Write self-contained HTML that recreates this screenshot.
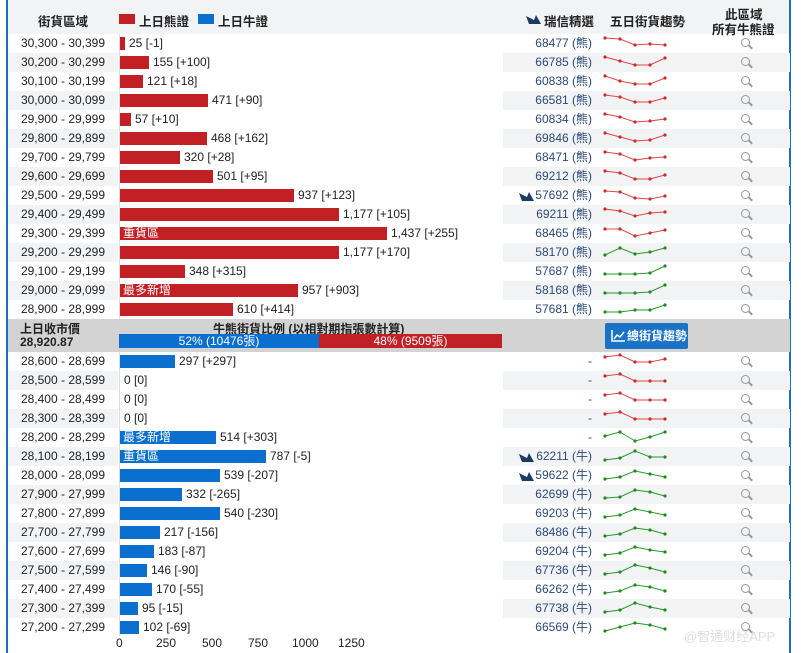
<!DOCTYPE html>
<html><head><meta charset="utf-8"><style>
*{margin:0;padding:0;box-sizing:border-box}
body{width:801px;height:653px;background:#fff;font-family:"Liberation Sans","Noto Sans CJK TC",sans-serif;font-size:12px;color:#222;position:relative;overflow:hidden}
.frame{position:absolute;left:6px;top:0;width:785px;height:653px;border-left:2px solid #1a6fc4;border-right:2px solid #1a6fc4}
.hdr{position:absolute;left:8px;top:0;width:782px;height:34px;background:#f2f3f5}
.h{position:absolute;font-weight:bold;font-size:12.5px;color:#222}
.row{position:absolute;left:8px;width:782px;height:19px}
.row.s .l,.row.s .r{background:#f2f3f5}
.l{position:absolute;left:0;top:0;width:110px;height:19px;text-align:center;line-height:19px}
.r{position:absolute;left:495px;top:0;width:287px;height:19px}
.bar{position:absolute;left:112px;top:3px;height:13px}
.bear{background:#c22024}.bull{background:#0a6fcf}
.v{position:absolute;top:0;line-height:19px}
.tag{position:absolute;left:115px;top:0;line-height:19px;color:#fff}
.c{position:absolute;right:198px;top:0;line-height:19px;color:#2b4a7a;text-align:right}
.sp{position:absolute;left:100px;top:2px;overflow:visible}
.sp polyline[stroke="#e05a5a"]{marker:url(#mr);stroke:#e04848}
.sp polyline[stroke="#2a9a2a"]{marker:url(#mg);stroke:#2a9a2a}
.m{position:absolute;left:238px;top:4px;width:9px;height:9px;border:1.6px solid #999;border-radius:50%;font-size:0}
.m::after{content:"";position:absolute;left:6px;top:7px;width:5px;height:1.8px;background:#999;transform:rotate(45deg)}
.bird{position:absolute;left:16px;top:5px}
.mid{position:absolute;left:8px;top:319px;width:782px;height:33px;background:#d3d3d3}
.axis{position:absolute;top:636px;font-size:12px}
.vline{position:absolute;left:119px;top:34px;width:1px;height:602px;background:#ddd}
</style></head><body>
<svg width="0" height="0" style="position:absolute"><defs>
<marker id="mr" markerWidth="4" markerHeight="4" refX="2" refY="2" markerUnits="userSpaceOnUse"><circle cx="2" cy="2" r="1.6" fill="#d02a2a"/></marker>
<marker id="mg" markerWidth="4" markerHeight="4" refX="2" refY="2" markerUnits="userSpaceOnUse"><circle cx="2" cy="2" r="1.6" fill="#1f8a1f"/></marker>
</defs></svg>
<div class="hdr"></div>
<div class="frame"></div>
<div class="h" style="left:38px;top:11px">街貨區域</div>
<div style="position:absolute;left:119px;top:14px;width:16px;height:10px;background:#c22024"></div>
<div class="h" style="left:139px;top:11px">上日熊證</div>
<div style="position:absolute;left:198px;top:14px;width:16px;height:10px;background:#0a6fcf"></div>
<div class="h" style="left:218px;top:11px">上日牛證</div>
<svg style="position:absolute;left:526px;top:14px" width="16" height="11"><path d="M0 2 L8 6 L10 1 L15 10 L3 10 Z" fill="#1c3b64"/></svg>
<div class="h" style="left:544px;top:11px">瑞信精選</div>
<div class="h" style="left:610px;top:11px">五日街貨趨勢</div>
<div class="h" style="left:725px;top:4px">此區域</div>
<div class="h" style="left:712px;top:19px">所有牛熊證</div>
<div class="vline"></div>

<div class="mid">
<div style="position:absolute;left:12px;top:1px;font-weight:bold;font-size:12px">上日收市價</div>
<div style="position:absolute;left:12px;top:16px;font-weight:bold;font-size:12px">28,920.87</div>
<div style="position:absolute;left:205px;top:1px;font-weight:bold;font-size:12px">牛熊街貨比例 (以相對期指張數計算)</div>
<div style="position:absolute;left:111px;top:15px;width:200px;height:14px;background:#0a6fcf;color:#fff;text-align:center;line-height:14px">52% (10476張)</div>
<div style="position:absolute;left:311px;top:15px;width:183px;height:14px;background:#c22024;color:#fff;text-align:center;line-height:14px">48% (9509張)</div>
<div style="position:absolute;left:597px;top:4px;width:83px;height:26px;background:#1a73c8;border-radius:2px;color:#fff;font-weight:bold;line-height:26px;padding-left:22px;font-size:12px">總街貨趨勢</div>
<svg style="position:absolute;left:603px;top:10px" width="15" height="13"><path d="M1 1 V12 H14" stroke="#fff" fill="none" stroke-width="1.5"/><path d="M3 10 L6 6 L9 8 L13 3" stroke="#fff" fill="none" stroke-width="1.5"/></svg>
</div>

<div class="axis" style="left:116px">0</div>
<div class="axis" style="left:156px">250</div>
<div class="axis" style="left:202px">500</div>
<div class="axis" style="left:248px">750</div>
<div class="axis" style="left:292px">1000</div>
<div class="axis" style="left:338px">1250</div>
<div style="position:absolute;left:684px;top:626px;color:#ddd;font-size:13px">@智通财经APP</div>

<div style="position:absolute;left:0;top:34px">
<div class="row" style="top:0"><div class="l">30,300 - 30,399</div><div class="bar bear" style="width:5px"></div><div class="v" style="left:121px">25 [-1]</div><div class="r"><div class="c">68477 (熊)</div><svg class="sp" width="64" height="15"><polyline points="2,2 17,3 32,9 47,8 62,9" fill="none" stroke="#e05a5a"/></svg><div class="m">q</div></div></div>
<div class="row s" style="top:19px"><div class="l">30,200 - 30,299</div><div class="bar bear" style="width:29px"></div><div class="v" style="left:145px">155 [+100]</div><div class="r"><div class="c">66785 (熊)</div><svg class="sp" width="64" height="15"><polyline points="2,2 17,6 32,10 47,10 62,3" fill="none" stroke="#e05a5a"/></svg><div class="m">q</div></div></div>
<div class="row" style="top:38px"><div class="l">30,100 - 30,199</div><div class="bar bear" style="width:23px"></div><div class="v" style="left:139px">121 [+18]</div><div class="r"><div class="c">60838 (熊)</div><svg class="sp" width="64" height="15"><polyline points="2,2 17,7 32,10 47,10 62,4" fill="none" stroke="#e05a5a"/></svg><div class="m">q</div></div></div>
<div class="row s" style="top:57px"><div class="l">30,000 - 30,099</div><div class="bar bear" style="width:88px"></div><div class="v" style="left:204px">471 [+90]</div><div class="r"><div class="c">66581 (熊)</div><svg class="sp" width="64" height="15"><polyline points="2,2 17,4 32,9 47,9 62,5" fill="none" stroke="#e05a5a"/></svg><div class="m">q</div></div></div>
<div class="row" style="top:76px"><div class="l">29,900 - 29,999</div><div class="bar bear" style="width:11px"></div><div class="v" style="left:127px">57 [+10]</div><div class="r"><div class="c">60834 (熊)</div><svg class="sp" width="64" height="15"><polyline points="2,2 17,5 32,10 47,9 62,7" fill="none" stroke="#e05a5a"/></svg><div class="m">q</div></div></div>
<div class="row s" style="top:95px"><div class="l">29,800 - 29,899</div><div class="bar bear" style="width:87px"></div><div class="v" style="left:203px">468 [+162]</div><div class="r"><div class="c">69846 (熊)</div><svg class="sp" width="64" height="15"><polyline points="2,2 17,6 32,10 47,9 62,4" fill="none" stroke="#e05a5a"/></svg><div class="m">q</div></div></div>
<div class="row" style="top:114px"><div class="l">29,700 - 29,799</div><div class="bar bear" style="width:60px"></div><div class="v" style="left:176px">320 [+28]</div><div class="r"><div class="c">68471 (熊)</div><svg class="sp" width="64" height="15"><polyline points="2,2 17,4 32,10 47,8 62,7" fill="none" stroke="#e05a5a"/></svg><div class="m">q</div></div></div>
<div class="row s" style="top:133px"><div class="l">29,600 - 29,699</div><div class="bar bear" style="width:93px"></div><div class="v" style="left:209px">501 [+95]</div><div class="r"><div class="c">69212 (熊)</div><svg class="sp" width="64" height="15"><polyline points="2,2 17,4 32,10 47,10 62,6" fill="none" stroke="#e05a5a"/></svg><div class="m">q</div></div></div>
<div class="row" style="top:152px"><div class="l">29,500 - 29,599</div><div class="bar bear" style="width:174px"></div><div class="v" style="left:290px">937 [+123]</div><div class="r"><svg class="bird" width="16" height="11"><path d="M0 2 L8 6 L10 1 L15 10 L3 10 Z" fill="#1c3b64"/></svg><div class="c">57692 (熊)</div><svg class="sp" width="64" height="15"><polyline points="2,3 17,4 32,10 47,11 62,8" fill="none" stroke="#e05a5a"/></svg><div class="m">q</div></div></div>
<div class="row s" style="top:171px"><div class="l">29,400 - 29,499</div><div class="bar bear" style="width:219px"></div><div class="v" style="left:335px">1,177 [+105]</div><div class="r"><div class="c">69211 (熊)</div><svg class="sp" width="64" height="15"><polyline points="2,2 17,4 32,9 47,6 62,5" fill="none" stroke="#e05a5a"/></svg><div class="m">q</div></div></div>
<div class="row" style="top:190px"><div class="l">29,300 - 29,399</div><div class="bar bear" style="width:267px"></div><div class="tag">重貨區</div><div class="v" style="left:383px">1,437 [+255]</div><div class="r"><div class="c">68465 (熊)</div><svg class="sp" width="64" height="15"><polyline points="2,3 17,3 32,10 47,7 62,4" fill="none" stroke="#e05a5a"/></svg><div class="m">q</div></div></div>
<div class="row s" style="top:209px"><div class="l">29,200 - 29,299</div><div class="bar bear" style="width:219px"></div><div class="v" style="left:335px">1,177 [+170]</div><div class="r"><div class="c">58170 (熊)</div><svg class="sp" width="64" height="15"><polyline points="2,10 17,3 32,9 47,7 62,3" fill="none" stroke="#2a9a2a"/></svg><div class="m">q</div></div></div>
<div class="row" style="top:228px"><div class="l">29,100 - 29,199</div><div class="bar bear" style="width:65px"></div><div class="v" style="left:181px">348 [+315]</div><div class="r"><div class="c">57687 (熊)</div><svg class="sp" width="64" height="15"><polyline points="2,10 17,10 32,10 47,9 62,2" fill="none" stroke="#2a9a2a"/></svg><div class="m">q</div></div></div>
<div class="row s" style="top:247px"><div class="l">29,000 - 29,099</div><div class="bar bear" style="width:178px"></div><div class="tag">最多新增</div><div class="v" style="left:294px">957 [+903]</div><div class="r"><div class="c">58168 (熊)</div><svg class="sp" width="64" height="15"><polyline points="2,10 17,10 32,10 47,9 62,2" fill="none" stroke="#2a9a2a"/></svg><div class="m">q</div></div></div>
<div class="row" style="top:266px"><div class="l">28,900 - 28,999</div><div class="bar bear" style="width:113px"></div><div class="v" style="left:229px">610 [+414]</div><div class="r"><div class="c">57681 (熊)</div><svg class="sp" width="64" height="15"><polyline points="2,10 17,10 32,8 47,8 62,3" fill="none" stroke="#2a9a2a"/></svg><div class="m">q</div></div></div>
</div>

<div style="position:absolute;left:0;top:352px">
<div class="row" style="top:0"><div class="l">28,600 - 28,699</div><div class="bar bull" style="width:55px"></div><div class="v" style="left:171px">297 [+297]</div><div class="r"><div class="c">-</div><svg class="sp" width="64" height="15"><polyline points="2,3 17,1 32,8 47,8 62,5" fill="none" stroke="#e05a5a"/></svg><div class="m">q</div></div></div>
<div class="row s" style="top:19px"><div class="l">28,500 - 28,599</div><div class="v" style="left:116px">0 [0]</div><div class="r"><div class="c">-</div><svg class="sp" width="64" height="15"><polyline points="2,3 17,1 32,8 47,8 62,8" fill="none" stroke="#e05a5a"/></svg><div class="m">q</div></div></div>
<div class="row" style="top:38px"><div class="l">28,400 - 28,499</div><div class="v" style="left:116px">0 [0]</div><div class="r"><div class="c">-</div><svg class="sp" width="64" height="15"><polyline points="2,3 17,1 32,8 47,8 62,8" fill="none" stroke="#e05a5a"/></svg><div class="m">q</div></div></div>
<div class="row s" style="top:57px"><div class="l">28,300 - 28,399</div><div class="v" style="left:116px">0 [0]</div><div class="r"><div class="c">-</div><svg class="sp" width="64" height="15"><polyline points="2,3 17,1 32,8 47,8 62,8" fill="none" stroke="#e05a5a"/></svg><div class="m">q</div></div></div>
<div class="row" style="top:76px"><div class="l">28,200 - 28,299</div><div class="bar bull" style="width:96px"></div><div class="tag">最多新增</div><div class="v" style="left:212px">514 [+303]</div><div class="r"><div class="c">-</div><svg class="sp" width="64" height="15"><polyline points="2,6 17,2 32,11 47,7 62,2" fill="none" stroke="#2a9a2a"/></svg><div class="m">q</div></div></div>
<div class="row s" style="top:95px"><div class="l">28,100 - 28,199</div><div class="bar bull" style="width:146px"></div><div class="tag">重貨區</div><div class="v" style="left:262px">787 [-5]</div><div class="r"><svg class="bird" width="16" height="11"><path d="M0 2 L8 6 L10 1 L15 10 L3 10 Z" fill="#1c3b64"/></svg><div class="c">62211 (牛)</div><svg class="sp" width="64" height="15"><polyline points="2,11 17,9 32,2 47,8 62,8" fill="none" stroke="#2a9a2a"/></svg><div class="m">q</div></div></div>
<div class="row" style="top:114px"><div class="l">28,000 - 28,099</div><div class="bar bull" style="width:100px"></div><div class="v" style="left:216px">539 [-207]</div><div class="r"><svg class="bird" width="16" height="11"><path d="M0 2 L8 6 L10 1 L15 10 L3 10 Z" fill="#1c3b64"/></svg><div class="c">59622 (牛)</div><svg class="sp" width="64" height="15"><polyline points="2,11 17,9 32,3 47,6 62,9" fill="none" stroke="#2a9a2a"/></svg><div class="m">q</div></div></div>
<div class="row s" style="top:133px"><div class="l">27,900 - 27,999</div><div class="bar bull" style="width:62px"></div><div class="v" style="left:178px">332 [-265]</div><div class="r"><div class="c">62699 (牛)</div><svg class="sp" width="64" height="15"><polyline points="2,11 17,10 32,3 47,5 62,9" fill="none" stroke="#2a9a2a"/></svg><div class="m">q</div></div></div>
<div class="row" style="top:152px"><div class="l">27,800 - 27,899</div><div class="bar bull" style="width:100px"></div><div class="v" style="left:216px">540 [-230]</div><div class="r"><div class="c">69203 (牛)</div><svg class="sp" width="64" height="15"><polyline points="2,11 17,9 32,3 47,6 62,9" fill="none" stroke="#2a9a2a"/></svg><div class="m">q</div></div></div>
<div class="row s" style="top:171px"><div class="l">27,700 - 27,799</div><div class="bar bull" style="width:40px"></div><div class="v" style="left:156px">217 [-156]</div><div class="r"><div class="c">68486 (牛)</div><svg class="sp" width="64" height="15"><polyline points="2,11 17,9 32,3 47,5 62,9" fill="none" stroke="#2a9a2a"/></svg><div class="m">q</div></div></div>
<div class="row" style="top:190px"><div class="l">27,600 - 27,699</div><div class="bar bull" style="width:34px"></div><div class="v" style="left:150px">183 [-87]</div><div class="r"><div class="c">69204 (牛)</div><svg class="sp" width="64" height="15"><polyline points="2,11 17,9 32,3 47,6 62,8" fill="none" stroke="#2a9a2a"/></svg><div class="m">q</div></div></div>
<div class="row s" style="top:209px"><div class="l">27,500 - 27,599</div><div class="bar bull" style="width:27px"></div><div class="v" style="left:143px">146 [-90]</div><div class="r"><div class="c">67736 (牛)</div><svg class="sp" width="64" height="15"><polyline points="2,11 17,9 32,2 47,5 62,9" fill="none" stroke="#2a9a2a"/></svg><div class="m">q</div></div></div>
<div class="row" style="top:228px"><div class="l">27,400 - 27,499</div><div class="bar bull" style="width:32px"></div><div class="v" style="left:148px">170 [-55]</div><div class="r"><div class="c">66262 (牛)</div><svg class="sp" width="64" height="15"><polyline points="2,11 17,9 32,3 47,5 62,9" fill="none" stroke="#2a9a2a"/></svg><div class="m">q</div></div></div>
<div class="row s" style="top:247px"><div class="l">27,300 - 27,399</div><div class="bar bull" style="width:18px"></div><div class="v" style="left:134px">95 [-15]</div><div class="r"><div class="c">67738 (牛)</div><svg class="sp" width="64" height="15"><polyline points="2,11 17,9 32,2 47,6 62,9" fill="none" stroke="#2a9a2a"/></svg><div class="m">q</div></div></div>
<div class="row" style="top:266px"><div class="l">27,200 - 27,299</div><div class="bar bull" style="width:19px"></div><div class="v" style="left:135px">102 [-69]</div><div class="r"><div class="c">66569 (牛)</div><svg class="sp" width="64" height="15"><polyline points="2,11 17,7 32,3 47,5 62,9" fill="none" stroke="#2a9a2a"/></svg><div class="m">q</div></div></div>
</div>
</body></html>
